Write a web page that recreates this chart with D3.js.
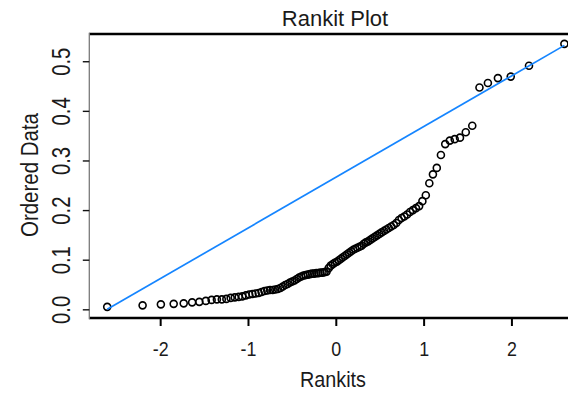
<!DOCTYPE html>
<html>
<head>
<meta charset="utf-8">
<script src="https://cdn.jsdelivr.net/npm/d3@7"></script>
<style>
  html, body { margin: 0; padding: 0; background: #fff; }
  svg { display: block; }
  text { font-family: "Liberation Sans", Arial, "DejaVu Sans", sans-serif; fill: #1a1a1a; }
</style>
</head>
<body>
<div id="chart"></div>
<script>
// Rankits (expected normal order statistics)
const rankits = [-2.603,-2.200,-1.992,-1.846,-1.732,-1.636,-1.554,-1.480,-1.414,-1.354,-1.298,-1.246,-1.197,-1.150,-1.106,-1.065,-1.025,-0.986,-0.949,-0.913,-0.878,-0.845,-0.812,-0.780,-0.749,-0.719,-0.689,-0.660,-0.631,-0.603,-0.576,-0.549,-0.522,-0.496,-0.470,-0.444,-0.418,-0.393,-0.368,-0.343,-0.319,-0.294,-0.270,-0.246,-0.222,-0.199,-0.175,-0.151,-0.128,-0.105,-0.081,-0.058,-0.035,-0.012,
  0.012,0.035,0.058,0.081,0.105,0.128,0.151,0.175,0.199,0.222,0.246,0.270,0.294,0.319,0.343,0.368,0.393,0.418,0.444,0.470,0.496,0.522,0.549,0.576,0.603,0.631,0.660,0.689,0.719,0.749,0.780,0.812,0.845,0.878,0.913,0.949,0.986,1.025,1.065,1.106,1.150,1.197,1.246,1.298,1.354,1.414,1.480,1.554,1.636,1.732,1.846,1.992,2.200,2.603];

// Ordered data values
const orderedData = [0.005,0.008,0.010,0.011,0.012,0.014,0.015,0.017,0.019,0.020,0.020,0.021,0.023,0.024,0.025,0.026,0.028,0.030,0.031,0.032,0.033,0.035,0.037,0.038,0.039,0.039,0.040,0.041,0.043,0.046,0.049,0.051,0.054,0.056,0.058,0.061,0.064,0.066,0.068,0.069,0.070,0.071,0.072,0.072,0.073,0.073,0.074,0.074,0.075,0.076,0.083,0.088,0.091,0.094,
  0.096,0.099,0.102,0.105,0.108,0.111,0.114,0.117,0.120,0.122,0.124,0.126,0.128,0.132,0.135,0.137,0.140,0.143,0.146,0.149,0.152,0.155,0.158,0.161,0.164,0.167,0.170,0.174,0.180,0.184,0.187,0.191,0.196,0.200,0.204,0.208,0.218,0.230,0.254,0.272,0.285,0.311,0.333,0.340,0.343,0.346,0.357,0.370,0.447,0.456,0.466,0.469,0.491,0.535];

// Reference line endpoints
const lineX = [-2.603, 2.603];
const lineY = [0.0, 0.532];

// Ticks
const xTicks = [-2, -1, 0, 1, 2];
const xTickLabels = ["-2", "-1", "0", "1", "2"];
const yTicks = [0.0, 0.1, 0.2, 0.3, 0.4, 0.5];
const yTickLabels = ["0.0", "0.1", "0.2", "0.3", "0.4", "0.5"];

const titleText = "Rankit Plot";
const xTitle = "Rankits";
const yTitle = "Ordered Data";

const W = 568, H = 393;
const plot = { left: 89.3, right: 582.3, top: 34, bottom: 318 };

const x = d3.scaleLinear().domain([-2.807, 2.807]).range([plot.left, plot.right]);
const y = d3.scaleLinear().domain([-0.0175, 0.5549]).range([plot.bottom, plot.top]);

const svg = d3.select("#chart").append("svg").attr("width", W).attr("height", H);

// Frame
svg.append("line").attr("x1", plot.left).attr("x2", W).attr("y1", plot.top).attr("y2", plot.top)
  .attr("stroke", "#000").attr("stroke-width", 2.6);
svg.append("line").attr("x1", plot.left).attr("x2", W).attr("y1", plot.bottom).attr("y2", plot.bottom)
  .attr("stroke", "#000").attr("stroke-width", 2.6);
svg.append("line").attr("x1", plot.left).attr("x2", plot.left).attr("y1", plot.top - 1.3).attr("y2", plot.bottom + 1.3)
  .attr("stroke", "#7a7a7a").attr("stroke-width", 1.3);

// X axis
const gx = svg.append("g").attr("transform", `translate(0,${plot.bottom + 1})`)
  .call(d3.axisBottom(x).tickValues(xTicks).tickSize(7).tickFormat((d, i) => xTickLabels[i]));
gx.select(".domain").remove();
gx.selectAll(".tick line").attr("stroke", "#000").attr("stroke-width", 2);
gx.selectAll(".tick text")
  .attr("y", 37).attr("dy", null)
  .attr("font-size", 21)
  .attr("fill", "#111")
  .attr("transform", "scale(0.85,1)")
  .style("font-family", '"Liberation Sans", Arial, sans-serif');

// Y axis
const gy = svg.append("g").attr("transform", `translate(${plot.left},0)`)
  .call(d3.axisLeft(y).tickValues(yTicks).tickSize(6.5).tickFormat((d, i) => yTickLabels[i]));
gy.select(".domain").remove();
gy.selectAll(".tick line").attr("stroke", "#111").attr("stroke-width", 1.4);
gy.selectAll(".tick text")
  .attr("x", 0).attr("y", 0).attr("dy", null).attr("dx", null)
  .attr("text-anchor", "middle")
  .attr("font-size", 26)
  .attr("fill", "#111")
  .attr("transform", "translate(-19.5,0) rotate(-90) scale(0.78,1)")
  .style("font-family", '"Liberation Sans", Arial, sans-serif');

// Points
svg.append("g").selectAll("circle")
  .data(rankits.map((r, i) => [r, orderedData[i]]))
  .join("circle")
  .attr("cx", d => x(d[0]))
  .attr("cy", d => y(d[1]))
  .attr("r", 3.5)
  .attr("fill", "none")
  .attr("stroke", "#000")
  .attr("stroke-width", 1.6);

// Reference line
svg.append("path")
  .datum(lineX.map((v, i) => [v, lineY[i]]))
  .attr("d", d3.line().x(d => x(d[0])).y(d => y(d[1])))
  .attr("fill", "none")
  .attr("stroke", "#1585ff")
  .attr("stroke-width", 1.7);

// Titles
svg.append("text").attr("x", 335).attr("y", 26).attr("text-anchor", "middle")
  .attr("font-size", 22).attr("fill", "#333").text(titleText);

svg.append("text").attr("text-anchor", "middle")
  .attr("transform", "translate(333,387) scale(0.9,1)")
  .attr("font-size", 22).attr("fill", "#222").text(xTitle);

svg.append("text").attr("text-anchor", "middle")
  .attr("transform", "translate(37.5,175) rotate(-90) scale(0.89,1)")
  .attr("font-size", 23).attr("fill", "#111").text(yTitle);
</script>
</body>
</html>
